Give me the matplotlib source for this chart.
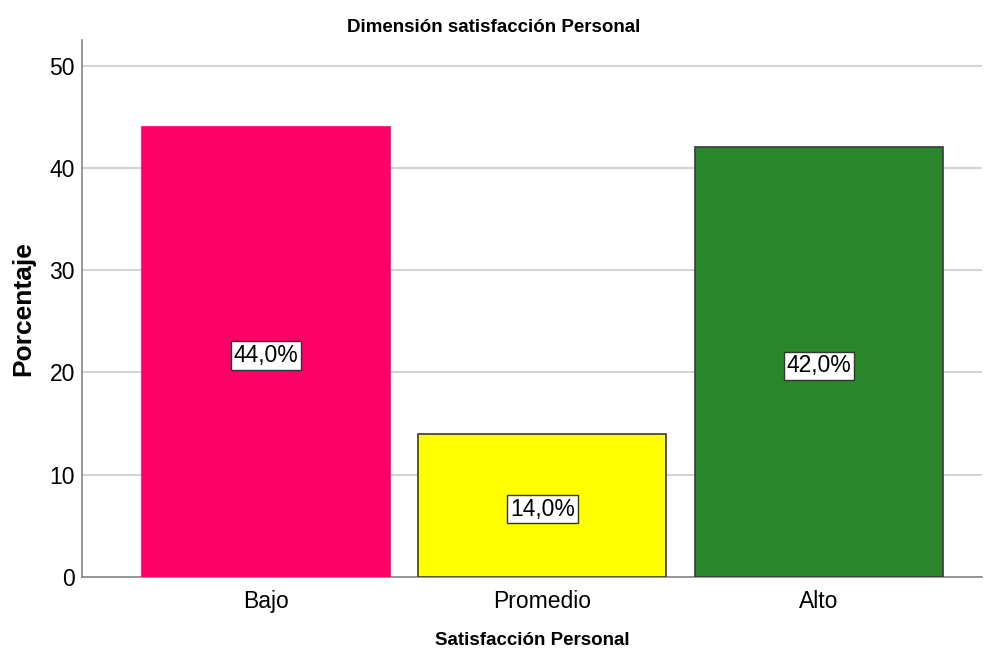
import matplotlib
matplotlib.use("Agg")
import matplotlib.pyplot as plt

categories = ["Bajo", "Promedio", "Alto"]
percentages = [44.0, 14.0, 42.0]
bar_colors = ["#FF0066", "#FFFF00", "#2A862A"]
edge_colors = ["#FF0066", "#3a3a3a", "#3a3a3a"]
yticks = [0, 10, 20, 30, 40, 50]

plt.rcParams['font.family'] = ['Liberation Sans', 'DejaVu Sans']

fig = plt.figure(figsize=(9.88, 6.55), dpi=100)
ax = fig.add_axes([0.083, 0.119, 0.911, 0.82])

x = range(len(categories))
ax.bar(x, percentages, width=0.897, color=bar_colors, edgecolor=edge_colors,
       linewidth=1.2, zorder=3)

for i, v in enumerate(percentages):
    ax.text(i, v / 2 - 0.35, ("%.1f%%" % v).replace(".", ","), ha="center", va="center",
            fontsize=16.5, zorder=4,
            bbox=dict(boxstyle="square,pad=0.12", facecolor="white",
                      edgecolor="#333333", linewidth=1))

ax.set_xlim(-0.665, 2.59)
ax.set_ylim(0, 52.5)
ax.set_yticks(yticks)
ax.set_xticks(list(x))
ax.set_xticklabels(categories)
ax.tick_params(axis="both", length=0, labelsize=16.5)
ax.tick_params(axis="x", pad=9)
ax.tick_params(axis="y", pad=5)
ax.yaxis.grid(True, color="#d4d4d4", linewidth=1.5, zorder=0)
ax.set_axisbelow(True)

for s in ["top", "right"]:
    ax.spines[s].set_visible(False)
for s in ["left", "bottom"]:
    ax.spines[s].set_color("#888888")
    ax.spines[s].set_linewidth(1.2)

ax.set_ylabel("Porcentaje", fontsize=19, fontweight="bold", labelpad=10)
ax.set_xlabel("Satisfacción Personal", fontsize=13.5, fontweight="bold", labelpad=14)
fig.text(0.5, 0.958, "Dimensión satisfacción Personal", ha="center", va="center",
         fontsize=13.5, fontweight="bold")

fig.savefig("out.png", dpi=100)
